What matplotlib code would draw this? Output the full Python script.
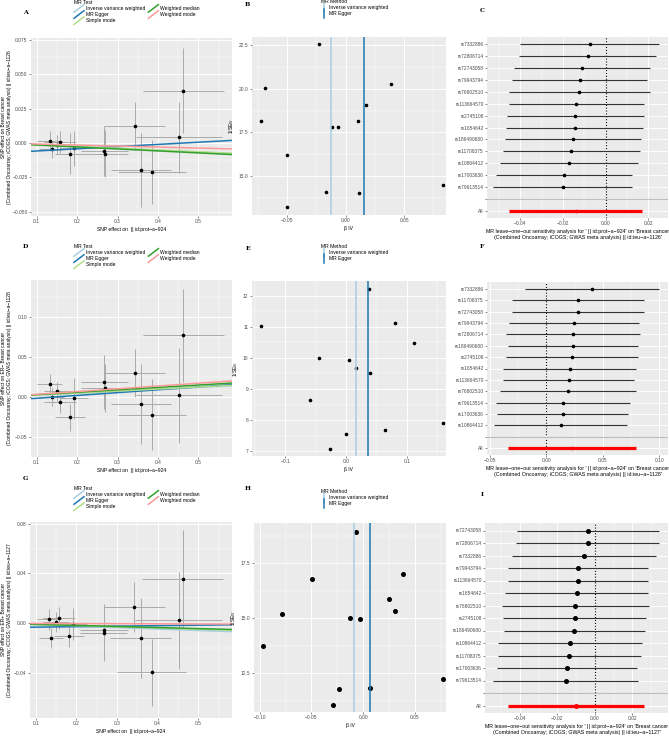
import matplotlib
matplotlib.use('Agg')
import matplotlib.pyplot as plt
from matplotlib.lines import Line2D
from matplotlib.legend_handler import HandlerBase

plt.rcParams['font.family'] = ['Liberation Sans', 'DejaVu Sans']
plt.rcParams['mathtext.default'] = 'regular'

# ---- data ----
# exposure (prot-a-924) effects, shared by the three scatter plots
bx = [0.132, 0.137, 0.150, 0.157, 0.183, 0.192, 0.267, 0.268, 0.342, 0.358, 0.385, 0.452, 0.462]
bx_se = [0.030, 0.030, 0.032, 0.040, 0.037, 0.035, 0.058, 0.058, 0.075, 0.075, 0.085, 0.107, 0.100]

# A: breast cancer (ieu-a-1126)
byA = [0.0015, -0.0046, -0.0012, 0.0007, -0.0077, -0.0040, -0.0058, -0.0077, 0.0123, -0.0197, -0.0210, 0.0041, 0.0380]
byA_se = [0.0072, 0.0060, 0.0070, 0.0080, 0.0150, 0.0130, 0.0180, 0.0170, 0.0177, 0.0270, 0.0230, 0.0260, 0.0310]
# D: ER- breast cancer (ieu-a-1128)
byD = [0.0162, 0.0004, 0.0071, -0.0062, -0.0253, -0.0017, 0.0187, 0.0112, 0.0295, -0.0087, -0.0220, 0.0021, 0.0768]
byD_se = [0.0120, 0.0110, 0.0120, 0.0130, 0.0170, 0.0250, 0.0340, 0.0300, 0.0300, 0.0500, 0.0440, 0.0590, 0.0580]
# G: ER+ breast cancer (ieu-a-1127)
byG = [0.0032, -0.0115, 0.0010, 0.0045, -0.0099, -0.0008, -0.0075, -0.0050, 0.0128, -0.0115, -0.0392, 0.0024, 0.0355]
byG_se = [0.0083, 0.0080, 0.0080, 0.0087, 0.0093, 0.0130, 0.0227, 0.0200, 0.0200, 0.0320, 0.0270, 0.0390, 0.0390]

methods = ['Inverse variance weighted', 'MR Egger', 'Simple mode', 'Weighted median', 'Weighted mode']
method_colors = ['#A6CEE3', '#1F78B4', '#B2DF8A', '#33A02C', '#FB9A99']
# (intercept, slope) for each method
linesA = [(0, -0.0132), (-0.0074, 0.0159), (0, -0.0128), (0, -0.0144), (0, -0.0074)]
linesD = [(0, 0.0240), (-0.0050, 0.0352), (0, 0.0250), (0, 0.0300), (0, 0.0345)]
linesG = [(0, -0.0115), (-0.0035, 0.0040), (0, -0.0095), (0, -0.0085), (0, -0.0010)]

# funnel plots: beta IV and 1/SE IV
funB_x = [-0.0229, -0.0691, -0.0723, -0.0500, -0.0497, -0.0166, -0.0114, -0.0066, 0.0103, 0.0171, 0.0383, 0.0114, 0.0829]
funB_y = [22.54, 20.02, 18.17, 16.21, 13.22, 14.10, 17.83, 17.80, 18.17, 19.05, 20.28, 14.04, 14.48]
funB_ivw, funB_egger = -0.0126, 0.0160
funE_x = [0.0376, -0.1409, 0.0807, 0.1127, -0.0448, 0.0055, 0.0166, 0.0387, -0.0597, 0.0641, 0.0000, -0.0271, 0.1590]
funE_y = [12.20, 11.04, 11.12, 10.49, 9.99, 9.92, 9.67, 9.53, 8.65, 7.69, 7.55, 7.06, 7.90]
funE_ivw, funE_egger = 0.0160, 0.0365
funH_x = [-0.0068, 0.0383, -0.0497, 0.0253, 0.0305, -0.0789, -0.0123, -0.0026, -0.0971, 0.0776, -0.0237, 0.0071, -0.0295]
funH_y = [18.89, 17.02, 16.76, 15.88, 15.33, 15.18, 15.00, 14.94, 13.75, 12.25, 11.78, 11.85, 11.05]
funH_ivw, funH_egger = -0.0091, 0.0065

# leave-one-out plots
snpsC = ['rs7332886', 'rs72806714', 'rs72743058', 'rs79943794', 'rs76802510', 'rs113664570', 'rs2745108',
         'rs1654642', 'rs186490680', 'rs11708375', 'rs10864412', 'rs17003636', 'rs79613514']
estC = [-0.0073, -0.0084, -0.0112, -0.0121, -0.0123, -0.0139, -0.0142, -0.0145, -0.0153, -0.0160, -0.0170, -0.0195, -0.0199]
loC = [-0.0400, -0.0406, -0.0431, -0.0437, -0.0453, -0.0454, -0.0462, -0.0467, -0.0470, -0.0482, -0.0493, -0.0512, -0.0528]
hiC = [0.0251, 0.0238, 0.0207, 0.0195, 0.0207, 0.0179, 0.0182, 0.0177, 0.0167, 0.0163, 0.0154, 0.0125, 0.0126]
allC = (-0.0140, -0.0451, 0.0170)

snpsF = ['rs7332886', 'rs11708375', 'rs72743058', 'rs79943794', 'rs72806714', 'rs186490680', 'rs2745108',
         'rs1654642', 'rs113664570', 'rs76802510', 'rs79613514', 'rs17003636', 'rs10864412']
estF = [0.0407, 0.0280, 0.0277, 0.0245, 0.0239, 0.0233, 0.0224, 0.0206, 0.0200, 0.0194, 0.0150, 0.0144, 0.0127]
loF = [-0.0186, -0.0306, -0.0306, -0.0330, -0.0354, -0.0342, -0.0360, -0.0380, -0.0380, -0.0407, -0.0445, -0.0433, -0.0468]
hiF = [0.0999, 0.0869, 0.0866, 0.0822, 0.0828, 0.0816, 0.0816, 0.0793, 0.0778, 0.0798, 0.0745, 0.0725, 0.0719]
allF = (0.0225, -0.0342, 0.0793)

snpsI = ['rs72743058', 'rs72806714', 'rs7332886', 'rs79943794', 'rs113664570', 'rs1654642', 'rs76802510',
         'rs2745108', 'rs186490680', 'rs10864412', 'rs11708375', 'rs17003636', 'rs79613514']
estI = [-0.0037, -0.0037, -0.0057, -0.0090, -0.0092, -0.0098, -0.0105, -0.0106, -0.0110, -0.0135, -0.0137, -0.0149, -0.0156]
loI = [-0.0413, -0.0421, -0.0440, -0.0461, -0.0465, -0.0477, -0.0495, -0.0488, -0.0483, -0.0516, -0.0518, -0.0520, -0.0541]
hiI = [0.0341, 0.0342, 0.0327, 0.0282, 0.0282, 0.0282, 0.0289, 0.0275, 0.0268, 0.0250, 0.0247, 0.0225, 0.0229]
allI = (-0.0101, -0.0465, 0.0264)

W, H = 669, 737
fig = plt.figure(figsize=(W / 100, H / 100), dpi=100)


def box(l, t, r, b):
    return [l / W, 1 - b / H, (r - l) / W, (b - t) / H]


class KeyLine(HandlerBase):
    # ggplot style legend keys: diagonal for abline, vertical for vline
    def __init__(self, kind):
        super().__init__()
        self.kind = kind

    def create_artists(self, legend, orig, xd, yd, w, h, fs, trans):
        if self.kind == 'diag':
            xs, ys = [-xd, -xd + w], [-yd - 1, -yd + h + 1]
        else:
            xs, ys = [-xd + w / 2, -xd + w / 2], [-yd - 1.5, -yd + h + 1.5]
        ln = Line2D(xs, ys, color=orig.get_color(), lw=orig.get_linewidth(), transform=trans)
        return [ln]


def style(ax, xl, yl, xt, xtl, yt, ytl, xminor, yminor):
    ax.set_facecolor('#EBEBEB')
    for s in ax.spines.values():
        s.set_visible(False)
    ax.set_xlim(xl)
    ax.set_ylim(yl)
    ax.set_xticks(xt)
    ax.set_xticklabels(xtl)
    ax.set_yticks(yt)
    ax.set_yticklabels(ytl)
    ax.set_xticks(xminor, minor=True)
    ax.set_yticks(yminor, minor=True)
    ax.tick_params(which='major', length=1.5, width=0.4, color='#333333', labelsize=3.5,
                   labelcolor='#4D4D4D', pad=1)
    ax.tick_params(which='minor', length=0)
    ax.grid(which='major', color='white', lw=0.7)
    ax.grid(which='minor', color='white', lw=0.35)
    ax.set_axisbelow(True)


def scatter_panel(ax, by, by_se, lines, ylab, legend_xy, left):
    ax.errorbar(bx, by, xerr=bx_se, yerr=by_se, fmt='none', ecolor='#ABABAB', elinewidth=0.7, zorder=2)
    ax.plot(bx, by, 'o', color='black', ms=1.6, zorder=3)
    handles = []
    for (b0, s), c in zip(lines, method_colors):
        ax.axline((0, b0), slope=s, color=c, lw=1.1, zorder=4)
        handles.append(Line2D([], [], color=c, lw=1.1))
    ax.set_xlabel('SNP effect on  || id:prot\u2212a\u2212924', fontsize=3.6, labelpad=2)
    ax.set_ylabel(ylab, fontsize=3.5, linespacing=1.3)
    # put the two-line label against the left edge of the figure
    ax.yaxis.set_label_coords((12.5 - left) / (232 - left), 0.5)
    ax.legend(handles, methods, title='MR Test', ncol=2, loc='upper left',
              bbox_to_anchor=(legend_xy[0] / W, 1 - legend_xy[1] / H), bbox_transform=fig.transFigure,
              frameon=False, fontsize=3.6, title_fontsize=3.6, alignment='left',
              handler_map={Line2D: KeyLine('diag')}, handlelength=2.0, handleheight=1.1,
              handletextpad=0.4, labelspacing=0.2, columnspacing=0.6, borderpad=0, borderaxespad=0)


def funnel_panel(ax, xs, ys, ivw, egger, ms, legend_xy):
    ax.plot(xs, ys, 'o', color='black', ms=ms, zorder=2)
    ax.axvline(ivw, color='#A6CEE3', lw=1.1, zorder=3)
    ax.axvline(egger, color='#1F78B4', lw=1.1, zorder=3)
    ax.set_xlabel('\u03b2 IV', fontsize=3.6, labelpad=2)
    ax.set_ylabel('$1/SE_{IV}$', fontsize=3.6, labelpad=2)
    handles = [Line2D([], [], color='#A6CEE3', lw=1.1), Line2D([], [], color='#1F78B4', lw=1.1)]
    ax.legend(handles, ['Inverse variance weighted', 'MR Egger'], title='MR Method', loc='upper left',
              bbox_to_anchor=(legend_xy[0] / W, 1 - legend_xy[1] / H), bbox_transform=fig.transFigure,
              frameon=False, fontsize=3.6, title_fontsize=3.6, alignment='left',
              handler_map={Line2D: KeyLine('vert')}, handlelength=1.2, handleheight=1.1,
              handletextpad=0.4, labelspacing=0.2, borderpad=0, borderaxespad=0)


def forest_panel(ax, snps, est, lo, hi, tot, ms, xlab):
    n = len(snps)
    ypos = list(range(n + 2, 2, -1))
    ax.axvline(0, color='black', ls=(0, (1, 1.6)), lw=0.8, zorder=2)
    ax.hlines(ypos, lo, hi, color='#333333', lw=0.8, zorder=3)
    ax.plot(est, ypos, 'o', color='black', ms=ms, zorder=4)
    ax.axhline(2, color='#BEBEBE', lw=0.8, zorder=3)
    ax.hlines(1, tot[1], tot[2], color='#FF0000', lw=2.3, zorder=3)
    ax.plot([tot[0]], [1], 'o', color='#FF0000', ms=ms, zorder=4)
    ax.set_yticks([1, 2] + ypos)
    ax.set_yticklabels(['All', ''] + snps)
    ax.set_ylim(0.4, n + 2.6)
    ax.set_xlabel(xlab, fontsize=3.8, labelpad=2, linespacing=1.3)


# ---- row 1 ----
axA = fig.add_axes(box(31, 38, 232, 216))
style(axA, (0.086, 0.583), (-0.053, 0.0762), [0.1, 0.2, 0.3, 0.4, 0.5], ['0.1', '0.2', '0.3', '0.4', '0.5'],
      [-0.05, -0.025, 0, 0.025, 0.05, 0.075], ['\u22120.050', '\u22120.025', '0.000', '0.025', '0.050', '0.075'],
      [0.15, 0.25, 0.35, 0.45, 0.55], [-0.0375, -0.0125, 0.0125, 0.0375, 0.0625])
scatter_panel(axA, byA, byA_se, linesA,
              'SNP effect on Breast cancer\n(Combined Oncoarray; iCOGS; GWAS meta analysis) || id:ieu\u2212a\u22121126',
              (74, 0), 31)

axB = fig.add_axes(box(252, 37, 446, 215))
style(axB, (-0.080, 0.0857), (12.78, 22.96), [-0.05, 0, 0.05], ['\u22120.05', '0.00', '0.05'],
      [15, 17.5, 20, 22.5], ['15.0', '17.5', '20.0', '22.5'],
      [-0.075, -0.025, 0.025, 0.075], [13.75, 16.25, 18.75, 21.25])
funnel_panel(axB, funB_x, funB_y, funB_ivw, funB_egger, 1.6, (321, -1))

axC = fig.add_axes(box(487, 37, 668, 218))
style(axC, (-0.0556, 0.0293), (0, 1), [-0.04, -0.02, 0, 0.02], ['\u22120.04', '\u22120.02', '0.00', '0.02'],
      [], [], [-0.05, -0.03, -0.01, 0.01], [])
forest_panel(axC, snpsC, estC, loC, hiC, allC, 1.6,
             "MR leave\u2212one\u2212out sensitivity analysis for ' || id:prot\u2212a\u2212924' on 'Breast cancer\n"
             "(Combined Oncoarray; iCOGS; GWAS meta analysis) || id:ieu\u2212a\u22121126'")

# ---- row 2 ----
axD = fig.add_axes(box(31, 280, 232, 457))
style(axD, (0.086, 0.583), (-0.0745, 0.1456), [0.1, 0.2, 0.3, 0.4, 0.5], ['0.1', '0.2', '0.3', '0.4', '0.5'],
      [-0.05, 0, 0.05, 0.10], ['\u22120.05', '0.00', '0.05', '0.10'],
      [0.15, 0.25, 0.35, 0.45, 0.55], [-0.025, 0.025, 0.075, 0.125])
scatter_panel(axD, byD, byD_se, linesD,
              'SNP effect on ER\u2212 Breast cancer\n(Combined Oncoarray; iCOGS; GWAS meta analysis) || id:ieu\u2212a\u22121128',
              (74, 244), 31)

axE = fig.add_axes(box(252, 281, 446, 456))
style(axE, (-0.155, 0.1646), (6.85, 12.47), [-0.1, 0, 0.1], ['\u22120.1', '0.0', '0.1'],
      [7, 8, 9, 10, 11, 12], ['7', '8', '9', '10', '11', '12'],
      [-0.15, -0.05, 0.05, 0.15], [7.5, 8.5, 9.5, 10.5, 11.5])
funnel_panel(axE, funE_x, funE_y, funE_ivw, funE_egger, 1.6, (321, 244))

axF = fig.add_axes(box(487, 282, 668, 455))
style(axF, (-0.0526, 0.1078), (0, 1), [-0.05, 0, 0.05, 0.10], ['\u22120.05', '0.00', '0.05', '0.10'],
      [], [], [-0.025, 0.025, 0.075], [])
forest_panel(axF, snpsF, estF, loF, hiF, allF, 1.6,
             "MR leave\u2212one\u2212out sensitivity analysis for ' || id:prot\u2212a\u2212924' on 'Breast cancer\n"
             "(Combined Oncoarray; iCOGS; GWAS meta analysis) || id:ieu\u2212a\u22121128'")

# ---- row 3 ----
axG = fig.add_axes(box(30, 522, 232, 718))
style(axG, (0.086, 0.583), (-0.076, 0.0813), [0.1, 0.2, 0.3, 0.4, 0.5], ['0.1', '0.2', '0.3', '0.4', '0.5'],
      [-0.04, 0, 0.04, 0.08], ['\u22120.04', '0.00', '0.04', '0.08'],
      [0.15, 0.25, 0.35, 0.45, 0.55], [-0.06, -0.02, 0.02, 0.06])
scatter_panel(axG, byG, byG_se, linesG,
              'SNP effect on ER+ Breast cancer\n(Combined Oncoarray; iCOGS; GWAS meta analysis) || id:ieu\u2212a\u22121127',
              (74, 486), 30)

axH = fig.add_axes(box(254, 523, 446, 712))
style(axH, (-0.1055, 0.0802), (10.74, 19.32), [-0.10, -0.05, 0, 0.05], ['\u22120.10', '\u22120.05', '0.00', '0.05'],
      [12.5, 15, 17.5], ['12.5', '15.0', '17.5'],
      [-0.075, -0.025, 0.025, 0.075], [11.25, 13.75, 16.25, 18.75])
funnel_panel(axH, funH_x, funH_y, funH_ivw, funH_egger, 2.6, (321, 489))

axI = fig.add_axes(box(485, 523, 668, 713))
style(axI, (-0.0586, 0.039), (0, 1), [-0.04, -0.02, 0, 0.02], ['\u22120.04', '\u22120.02', '0.00', '0.02'],
      [], [], [-0.05, -0.03, -0.01, 0.01, 0.03], [])
forest_panel(axI, snpsI, estI, loI, hiI, allI, 2.6,
             "MR leave\u2212one\u2212out sensitivity analysis for ' || id:prot\u2212a\u2212924' on 'Breast cancer\n"
             "(Combined Oncoarray; iCOGS; GWAS meta analysis) || id:ieu\u2212a\u22121127'")

# panel letters
for letter, x, y in [('A', 25, 12), ('B', 247, 4), ('C', 482, 11), ('D', 25, 247), ('E', 248, 248),
                     ('F', 482, 247), ('G', 25, 478), ('H', 248, 489), ('I', 482, 495)]:
    fig.text(x / W, 1 - y / H, letter, fontsize=4.5, fontweight='bold', family='DejaVu Serif',
             ha='center', va='center')

fig.savefig('out.png', dpi=100)
